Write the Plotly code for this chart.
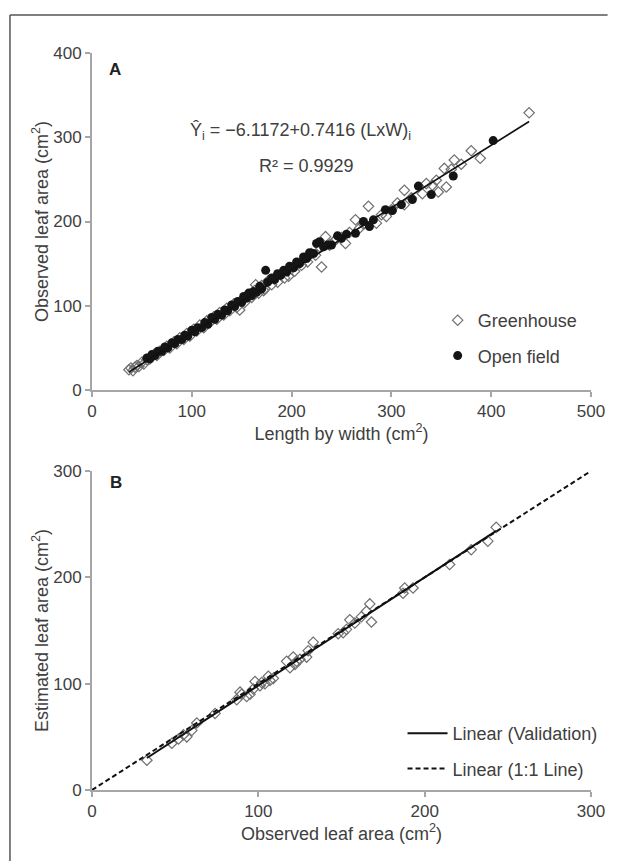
import numpy as np
import plotly.graph_objects as go

# ---------------- Panel A data ----------------
gh_x = [37, 39, 41, 43, 45, 47, 50, 52, 55, 58, 62, 65, 68, 72, 75, 78, 82, 85, 88, 92,
        95, 98, 102, 105, 108, 112, 115, 118, 122, 125, 128, 132, 135, 138, 142, 145, 148,
        150, 153, 156, 160, 163, 164, 167, 170, 172, 173, 176, 180, 183, 186, 190, 193, 197,
        200, 203, 206, 210, 213, 216, 220, 224, 228, 230, 234, 238, 242, 245, 250, 254, 258,
        264, 268, 272, 277, 285, 290, 295, 300, 306, 313, 313, 320, 331, 335, 341, 345, 347,
        353, 355, 360, 363, 370, 380, 389, 438]
gh_y = [24, 26, 23, 27, 29, 28, 33, 31, 36, 37, 42, 41, 46, 47, 52, 50, 57, 55, 62, 60,
        67, 64, 72, 70, 77, 74, 82, 80, 87, 84, 92, 89, 97, 94, 102, 98, 95,
        107, 104, 112, 110, 118, 125, 115, 124, 118, 120, 129, 125, 133, 128, 138, 133, 135,
        144, 141, 150, 148, 156, 152, 162, 160, 170, 146, 182, 172, 176, 179, 181, 174, 187,
        202, 192, 197, 218, 198, 208, 206, 214, 222, 237, 220, 228, 233, 245, 243, 249, 235,
        263, 241, 262, 273, 268, 284, 275, 329]

of_x = [55, 58, 60, 63, 66, 70, 73, 76, 80, 83, 86, 90, 93, 96, 100, 103, 106, 110, 113,
        116, 120, 123, 126, 130, 133, 136, 140, 143, 146, 150, 152, 155, 157, 160, 162, 165,
        168, 170, 174, 176, 180, 183, 186, 189, 192, 195, 198, 202, 205, 208, 212, 215, 218,
        222, 225, 228, 232, 236, 240, 246, 250, 255, 264, 272, 278, 282, 294, 301, 310, 321,
        327, 340, 362, 402]
of_y = [38, 37, 42, 41, 46, 46, 51, 50, 56, 55, 60, 60, 65, 64, 71, 69, 74, 74, 80,
        78, 86, 84, 90, 89, 95, 94, 101, 99, 105, 104, 111, 109, 115, 112, 117, 116,
        123, 120, 142, 128, 133, 131, 138, 136, 142, 140, 147, 145, 152, 150, 158, 156, 163,
        162, 174, 176, 170, 172, 172, 183, 180, 185, 186, 200, 194, 202, 214, 213, 220, 226,
        242, 232, 254, 296]

reg_a = -6.1172
reg_b = 0.7416

# ---------------- Panel B data ----------------
val_x = [33, 48, 52, 55, 57, 60, 63, 74, 87, 89, 90, 93, 95, 97, 98, 101, 102, 104, 106,
         107, 109, 117, 119, 121, 122, 123, 125, 129, 130, 133, 148, 151, 153, 155, 158,
         162, 165, 167, 168, 187, 188, 193, 215, 228, 238, 243]
val_y = [28, 44, 48, 52, 50, 56, 63, 72, 85, 92, 90, 88, 90, 95, 102, 98, 101, 100, 107,
         103, 105, 121, 115, 125, 118, 121, 123, 125, 131, 139, 147, 148, 151, 160, 157,
         163, 168, 175, 158, 185, 190, 190, 212, 226, 234, 247]

one_to_one = [0, 300]

FONT = "Liberation Sans, Arial, sans-serif"
TXT = "#404040"
AX = "#a6a6a6"

fig = go.Figure()

fig.add_trace(go.Scatter(
    x=gh_x, y=gh_y, mode="markers", name="Greenhouse",
    marker=dict(symbol="diamond-open", size=8, color="#707070", line=dict(width=1.2, color="#707070")),
    xaxis="x", yaxis="y", legend="legend", legendgroup="g1"))
fig.add_trace(go.Scatter(
    x=of_x, y=of_y, mode="markers", name="Open field",
    marker=dict(symbol="circle", size=9, color="#151515"),
    xaxis="x", yaxis="y", legend="legend", legendgroup="g2"))

allx = np.array(gh_x + of_x, dtype=float)
lx = np.array([allx.min(), allx.max()])
fig.add_trace(go.Scatter(
    x=lx, y=reg_a + reg_b * lx, mode="lines", line=dict(color="#111111", width=1.6),
    showlegend=False, xaxis="x", yaxis="y", hoverinfo="skip"))

# Panel B
fig.add_trace(go.Scatter(
    x=val_x, y=val_y, mode="markers", showlegend=False,
    marker=dict(symbol="diamond-open", size=8, color="#707070", line=dict(width=1.2, color="#707070")),
    xaxis="x2", yaxis="y2"))
vx = np.array(val_x, dtype=float)
vy = np.array(val_y, dtype=float)
sl, ic = np.polyfit(vx, vy, 1)
bx = np.array([vx.min(), vx.max()])
fig.add_trace(go.Scatter(
    x=bx, y=ic + sl * bx, mode="lines", name="Linear (Validation)",
    line=dict(color="#111111", width=2), xaxis="x2", yaxis="y2",
    legend="legend2", legendgroup="h1"))
fig.add_trace(go.Scatter(
    x=one_to_one, y=one_to_one, mode="lines", name="Linear (1:1 Line)",
    line=dict(color="#111111", width=2, dash="5px,3px"), xaxis="x2", yaxis="y2",
    legend="legend2", legendgroup="h2"))

axis_common = dict(
    showline=True, linecolor=AX, linewidth=2, ticks="outside", tickcolor=AX,
    tickwidth=2, ticklen=5, showgrid=False, zeroline=False,
    tickfont=dict(family=FONT, size=17, color=TXT),
    title_font=dict(family=FONT, size=18, color=TXT),
)

L, R, T, B = 92, 14, 53, 71
H = 861 - T - B
dA0 = (861 - B - 390) / H
dB1 = (790 - 471) / H

fig.update_layout(
    width=617, height=861,
    margin=dict(l=L, r=R, t=T, b=B),
    paper_bgcolor="white", plot_bgcolor="white",
    font=dict(family=FONT, color=TXT),
    xaxis=dict(axis_common, domain=[0, 1], range=[0, 500], dtick=100, anchor="y",
               title=dict(text="Length by width (cm<sup>2</sup>)", standoff=6)),
    yaxis=dict(axis_common, domain=[dA0, 1], range=[0, 400], dtick=100, anchor="x",
               title=dict(text="Observed leaf area (cm<sup>2</sup>)", standoff=0)),
    xaxis2=dict(axis_common, domain=[0, 1], range=[0, 300], dtick=100, anchor="y2",
                title=dict(text="Observed leaf area (cm<sup>2</sup>)", standoff=4)),
    yaxis2=dict(axis_common, domain=[0, dB1], range=[0, 300], dtick=100, anchor="x2",
                title=dict(text="Estimated leaf area (cm<sup>2</sup>)", standoff=0)),
    legend=dict(x=(446 - L) / 511, y=(790 - 302) / H, xanchor="left", yanchor="top",
                traceorder="grouped", tracegroupgap=9, bgcolor="rgba(0,0,0,0)",
                font=dict(family=FONT, size=18, color=TXT)),
    legend2=dict(x=(410 - L) / 511, y=(790 - 715) / H, xanchor="left", yanchor="top",
                 traceorder="grouped", tracegroupgap=9, bgcolor="rgba(0,0,0,0)",
                 itemwidth=40,
                 font=dict(family=FONT, size=18, color=TXT)),
    showlegend=True,
)

def px2x(px):
    return (px - L) / 511.0

def py2y(py):
    return (861 - B - py) / H

def note(px, py, text, size=18, color=TXT):
    fig.add_annotation(x=px2x(px), y=py2y(py), xref="paper", yref="paper", text=text,
                       xanchor="center", yanchor="middle", showarrow=False,
                       font=dict(family=FONT, size=size, color=color))

note(116, 69, "<b>A</b>", 17, "#222222")
note(117, 482, "<b>B</b>", 17, "#222222")
note(306, 132, "Ŷ<sub>i</sub> = −6.1172+0.7416 (LxW)<sub>i</sub>")
note(312, 166, "R² = 0.9929")

# outer frame lines
fig.add_shape(type="line", xref="paper", yref="paper", x0=px2x(8), x1=px2x(620),
              y0=py2y(15), y1=py2y(15), line=dict(color="#555555", width=1.5))
fig.add_shape(type="line", xref="paper", yref="paper", x0=px2x(8), x1=px2x(8),
              y0=py2y(15), y1=py2y(865), line=dict(color="#555555", width=1.5))

fig.write_html("out.html")
